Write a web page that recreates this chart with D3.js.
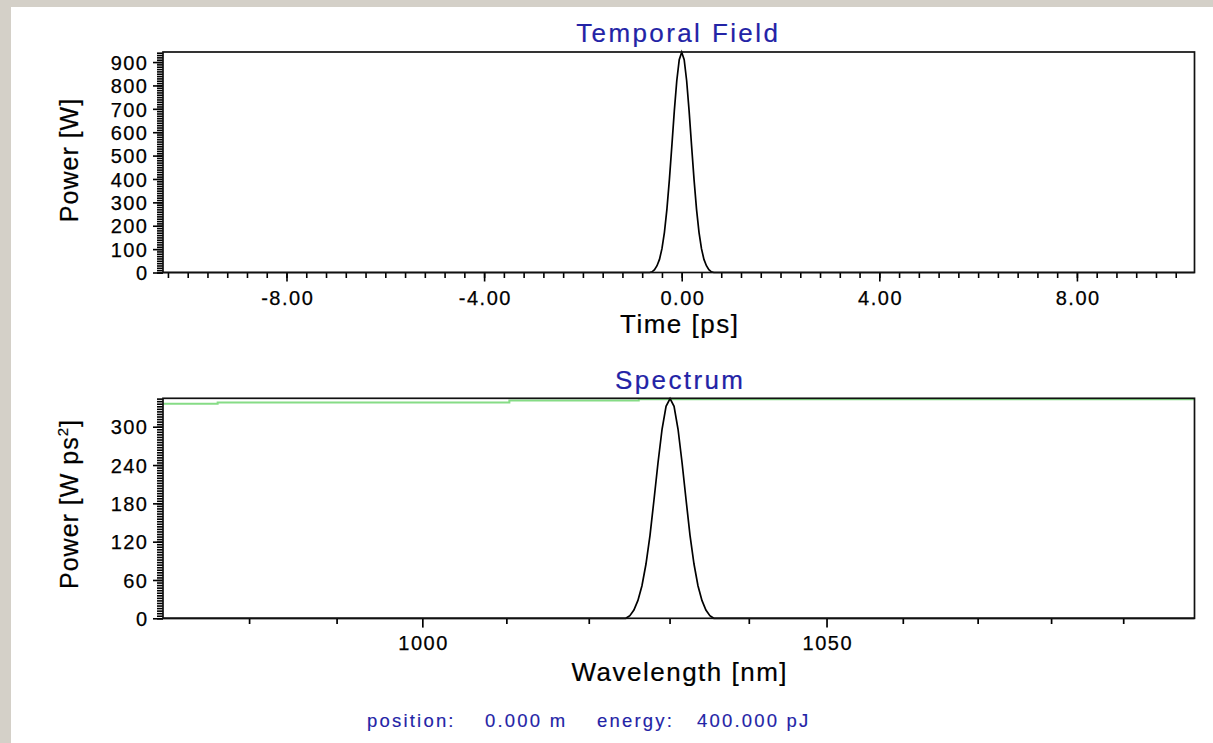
<!DOCTYPE html>
<html><head><meta charset="utf-8">
<script src="https://cdn.jsdelivr.net/npm/d3@7"></script>
<style>
body{margin:0;background:#d4d0c8;overflow:hidden}
svg{display:block}
text{font-family:"Liberation Sans",Arial,sans-serif}
</style>
</head><body>
<svg id="c" width="1213" height="743"></svg>
<script>
// ---------------- data ----------------
const timeTitle = "Temporal Field";
const specTitle = "Spectrum";
const timeRange = [-10.50, 10.38];            // ps, visible window
const timePs  = [-10.50, -0.65, -0.60, -0.55, -0.50, -0.45, -0.40, -0.35, -0.30, -0.25, -0.20, -0.15, -0.10, -0.05, 0.00,
                 0.05, 0.10, 0.15, 0.20, 0.25, 0.30, 0.35, 0.40, 0.45, 0.50, 0.55, 0.60, 0.65, 10.38];
const powerW  = [0, 0, 3, 12, 29, 56, 102, 172, 270, 396, 541, 690, 820, 910, 942,
                 910, 820, 690, 541, 396, 270, 172, 102, 56, 29, 12, 3, 0, 0];
const powerRange = [0, 943];
const timeMajorTicks = [-8, -4, 0, 4, 8];
const timeTickLabels = ["-8.00", "-4.00", "0.00", "4.00", "8.00"];
const powerTicks = [0, 100, 200, 300, 400, 500, 600, 700, 800, 900];
const powerTickLabels = ["0", "100", "200", "300", "400", "500", "600", "700", "800", "900"];

const wavelengthRange = [970.3, 1100];        // nm, axis linear in frequency
const wavelengthNm = [970.3, 1024.5, 1025.0, 1025.5, 1026.0, 1026.5, 1027.0, 1027.5, 1028.0, 1028.5, 1029.0, 1029.5, 1030.0,
                      1030.5, 1031.0, 1031.5, 1032.0, 1032.5, 1033.0, 1033.5, 1034.0, 1034.5, 1035.0, 1035.5, 1100];
const spectrumPower = [0, 0, 4, 13, 28, 51, 85, 130, 186, 244, 296, 332, 344,
                       332, 296, 244, 186, 130, 85, 51, 28, 13, 4, 0, 0];
const greenWl    = [970.3, 976.4, 976.4, 1010.3, 1010.3, 1026.1, 1026.1, 1100];
const greenLevel = [336, 336, 338, 338, 341, 341, 343, 343];
const specRange = [0, 344.5];
const wlTicks = [980, 990, 1000, 1010, 1020, 1030, 1040, 1050, 1060, 1070, 1080, 1090];
const wlMajorTicks = [1000, 1050];
const wlTickLabels = ["1000", "1050"];
const specTicks = [0, 60, 120, 180, 240, 300];
const specTickLabels = ["0", "60", "120", "180", "240", "300"];

const footer = [["position:", 367], ["0.000 m", 485], ["energy:", 597], ["400.000 pJ", 697]];

// ---------------- layout ----------------
const svg = d3.select("#c");
const BLUE = "#2323a6";
svg.append("rect").attr("x", 11).attr("y", 7).attr("width", 1213).attr("height", 743).attr("fill", "#fff");

const L = 163, R = 1194.5;
const top1 = 52, bot1 = 272.5;
const top2 = 398.3, bot2 = 618.3;

const x1 = d3.scaleLinear().domain(timeRange).range([L, R]);
const y1 = d3.scaleLinear().domain(powerRange).range([bot1, top1]);
const fScale = d3.scaleLinear().domain(wavelengthRange.map(v => 1 / v)).range([L, R]);
const x2 = v => fScale(1 / v);
const y2 = d3.scaleLinear().domain(specRange).range([bot2, top2]);

const TF = {size: 20, ls: 1.5};
const AX = {size: 26, ls: 1.5};
const YT = {size: 25, ls: 1};

function styleAxis(g, w) {
  g.select(".domain").remove();
  g.selectAll(".tick line").attr("stroke", "#000").attr("stroke-width", w);
}
function tickText(sel) {
  sel.attr("font-size", TF.size).attr("letter-spacing", TF.ls).attr("fill", "#000")
     .attr("stroke", "#000").attr("stroke-width", 0.25);
}

// ---- top panel ----
svg.append("g").attr("transform", `translate(${L},0)`)
  .call(d3.axisLeft(y1).tickValues(d3.range(0, 941, 10)).tickSize(6).tickFormat(""))
  .call(g => styleAxis(g, 1.6));
svg.append("g").attr("transform", `translate(${L},0)`)
  .call(d3.axisLeft(y1).tickValues(powerTicks).tickSize(10).tickFormat((d, i) => powerTickLabels[i]))
  .call(g => styleAxis(g, 1.6))
  .call(g => g.selectAll("text").call(tickText).attr("x", -14.5).attr("dy", "0.36em"));
svg.append("g").attr("transform", `translate(0,${bot1})`)
  .call(d3.axisBottom(x1).tickValues(d3.range(-10.4, 10.01, 0.4)).tickSize(5.5).tickFormat(""))
  .call(g => styleAxis(g, 1.6));
svg.append("g").attr("transform", `translate(0,${bot1})`)
  .call(d3.axisBottom(x1).tickValues(timeMajorTicks).tickSize(9).tickFormat((d, i) => timeTickLabels[i]))
  .call(g => styleAxis(g, 1.6))
  .call(g => g.selectAll("text").call(tickText).attr("y", 32.5).attr("dy", 0).attr("dx", TF.ls / 2));

svg.append("path")
  .datum(timePs.map((t, i) => [t, powerW[i]]))
  .attr("fill", "none").attr("stroke", "#000").attr("stroke-width", 1.7)
  .attr("d", d3.line().x(d => x1(d[0])).y(d => y1(d[1])));

svg.append("rect").attr("x", L).attr("y", top1).attr("width", R - L).attr("height", bot1 - top1)
  .attr("fill", "none").attr("stroke", "#111").attr("stroke-width", 1.7);

function label(txt, x, y, spec, fill) {
  return svg.append("text").text(txt).attr("x", x + spec.ls / 2).attr("y", y).attr("text-anchor", "middle")
    .attr("font-size", spec.size).attr("letter-spacing", spec.ls).attr("fill", fill)
    .attr("stroke", fill).attr("stroke-width", 0.2);
}
label(timeTitle, 677, 41.5, {size: 26, ls: 2.4}, BLUE);
label("Time [ps]", 679, 333, AX, "#000");
svg.append("text").text("Power [W]").attr("transform", "translate(78,160) rotate(-90)").attr("text-anchor", "middle")
  .attr("font-size", YT.size).attr("letter-spacing", YT.ls).attr("fill", "#000").attr("stroke", "#000").attr("stroke-width", 0.2);

// ---- bottom panel ----
svg.append("g").attr("transform", `translate(${L},0)`)
  .call(d3.axisLeft(y2).tickValues(d3.range(0, 345, 4)).tickSize(6).tickFormat(""))
  .call(g => styleAxis(g, 1.6));
svg.append("g").attr("transform", `translate(${L},0)`)
  .call(d3.axisLeft(y2).tickValues(specTicks).tickSize(10).tickFormat((d, i) => specTickLabels[i]))
  .call(g => styleAxis(g, 1.6))
  .call(g => g.selectAll("text").call(tickText).attr("x", -14.5).attr("dy", "0.36em"));

const gw = svg.append("g").attr("transform", `translate(0,${bot2})`);
gw.selectAll("line").data(wlTicks).join("line")
  .attr("x1", d => x2(d)).attr("x2", d => x2(d)).attr("y1", 0)
  .attr("y2", d => wlMajorTicks.includes(d) ? 9.3 : 5.7)
  .attr("stroke", "#000").attr("stroke-width", 1.7);
gw.selectAll("text").data(wlMajorTicks).join("text")
  .attr("x", d => x2(d) + TF.ls / 2).attr("y", 32)
  .attr("text-anchor", "middle").call(tickText)
  .text((d, i) => wlTickLabels[i]);

svg.append("path")
  .datum(greenWl.map((w, i) => [w, greenLevel[i]]))
  .attr("fill", "none").attr("stroke", "#86dc86").attr("stroke-width", 2)
  .attr("d", d3.line().x(d => x2(d[0])).y(d => y2(d[1])));

svg.append("path")
  .datum(wavelengthNm.map((w, i) => [w, spectrumPower[i]]))
  .attr("fill", "none").attr("stroke", "#000").attr("stroke-width", 1.7)
  .attr("d", d3.line().x(d => x2(d[0])).y(d => y2(d[1])));

svg.append("rect").attr("x", L).attr("y", top2).attr("width", R - L).attr("height", bot2 - top2)
  .attr("fill", "none").attr("stroke", "#111").attr("stroke-width", 1.7);

label(specTitle, 679, 389, {size: 26, ls: 2.4}, BLUE);
label("Wavelength [nm]", 679, 681, AX, "#000");
const yl = svg.append("text").attr("transform", "translate(78,504) rotate(-90)").attr("text-anchor", "middle")
  .attr("font-size", YT.size).attr("letter-spacing", YT.ls).attr("fill", "#000").attr("stroke", "#000").attr("stroke-width", 0.2);
yl.append("tspan").text("Power [W ps");
yl.append("tspan").text("2").attr("font-size", 15).attr("dy", -10);
yl.append("tspan").text("]").attr("dy", 10);

// footer
svg.append("g").selectAll("text").data(footer).join("text")
  .attr("x", d => d[1]).attr("y", 727).attr("font-size", 18.5).attr("letter-spacing", 2.2)
  .attr("fill", BLUE).attr("stroke", BLUE).attr("stroke-width", 0.15).text(d => d[0]);
</script>
</body></html>
